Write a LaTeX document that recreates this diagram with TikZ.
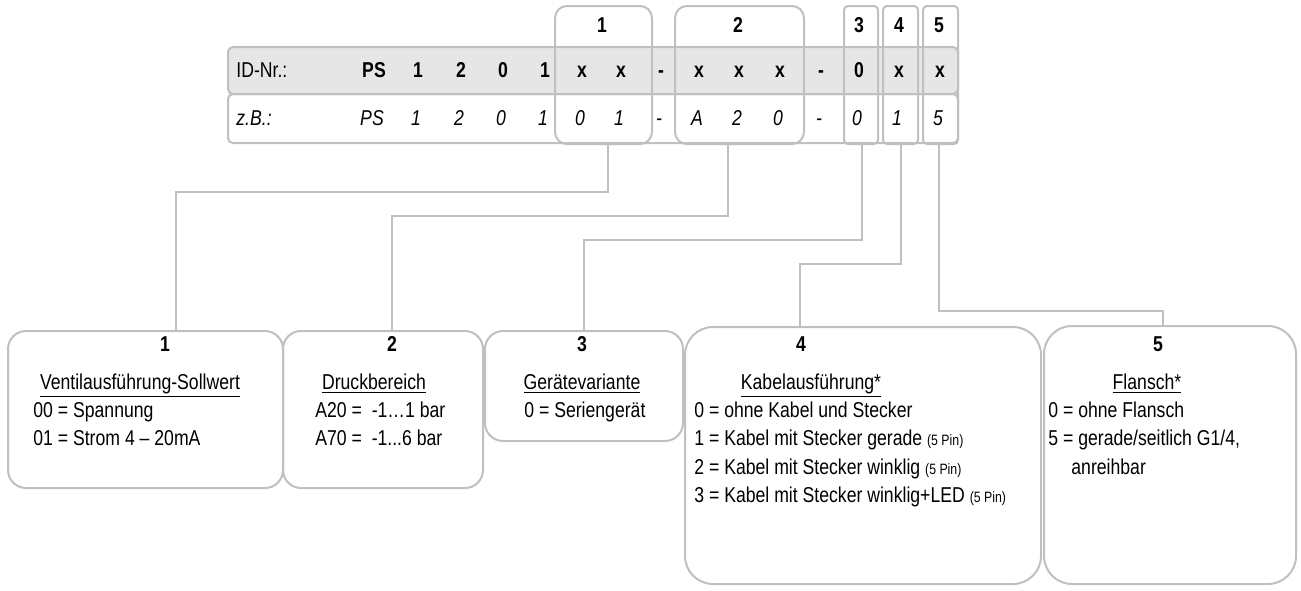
\documentclass[tikz,border=0pt]{standalone}
\usepackage{fontspec}
\setmainfont{Liberation Sans}[FakeStretch=0.82]
\usetikzlibrary{positioning}

\definecolor{framegray}{HTML}{C0C0C0}
\definecolor{rowgray}{HTML}{E6E6E6}
\newcommand{\boxfont}{\fontsize{10.75pt}{13pt}\selectfont}
\newcommand{\pinfont}{\fontsize{7.5pt}{9pt}\selectfont}

\tikzset{
		frame/.style   = {draw=framegray, line width=1pt, inner sep=0pt, anchor=north west},
		idrow/.style   = {frame, rounded corners=2.5pt, minimum width=365pt},
		colbox/.style  = {frame, rounded corners=2pt, minimum height=69pt},
		bigcol/.style  = {colbox, rounded corners=6pt},
		infobox/.style = {frame, rounded corners=9pt},
		wire/.style    = {draw=framegray, line width=1pt},
		txt/.style     = {font=\boxfont, inner sep=0pt, anchor=base west},
		head/.style    = {txt, anchor=base},
		num/.style     = {head, font=\boxfont\bfseries},
		excell/.style  = {head, font=\boxfont\itshape}
	}

\begin{document}
\begin{tikzpicture}[x=0.5pt, y=-0.5pt]
				\fill[white] (0,0) rectangle (1301,590);
				\path[use as bounding box] (0,0) rectangle (1301,590);

				% ID-Nr. table
				\node[idrow, fill=rowgray, minimum height=23.5pt] (idnr) at (227,46) {};
				\node[idrow, minimum height=24.5pt] (zb) at (227,93) {};
				\node[txt] (idlbl) at (236,77.5) {ID-Nr.:};
				\node[txt, font=\boxfont\itshape] (zblbl) at (236,125.5) {z.B.:};
				\foreach \x/\a/\b [count=\i] in {374/PS/PS, 418/1/1, 461/2/2, 503/0/0, 545/1/1,
						582/x/0, 621/x/1, 661/-/-, 699/x/A, 739/x/2, 780/x/0, 821/-/-,
						859/0/0, 899/x/1, 940/x/5}
					{
						\node[num] (id\i) at (\x,77.5) {\a};
						\node[excell] (ex\i) at (\x-2,125.5) {\b};
					}

				% position boxes
				\node[bigcol, minimum width=48.5pt] (col1) at (554,5) {};
				\node[bigcol, minimum width=64.5pt] (col2) at (674,5) {};
				\node[colbox, minimum width=17pt] (col3) at (843,5) {};
				\node[colbox, minimum width=17.5pt] (col4) at (882,5) {};
				\node[colbox, minimum width=17.5pt] (col5) at (922,5) {};
				\node[num] (cn1) at (602,32.5) {1};
				\node[num] (cn2) at (738,32.5) {2};
				\node[num] (cn3) at (859,32.5) {3};
				\node[num] (cn4) at (899,32.5) {4};
				\node[num] (cn5) at (939,32.5) {5};

				% explanation boxes
				\node[infobox, minimum width=137.5pt, minimum height=78.5pt] (b1) at (7,330) {};
				\node[infobox, minimum width=100pt, minimum height=78.5pt] (b2) at (282,330) {};
				\node[infobox, minimum width=99pt, minimum height=55pt] (b3) at (484,330) {};
				\node[infobox, rounded corners=14pt, minimum width=178pt, minimum height=128.5pt] (b4) at (684,326) {};
				\node[infobox, rounded corners=14pt, minimum width=126pt, minimum height=129pt] (b5) at (1043,325) {};

				% connectors
				\draw[wire] (608,0 |- col1.south) |- (176,192) -- (176,0 |- b1.north);
				\draw[wire] (728,0 |- col2.south) |- (392,216) -- (392,0 |- b2.north);
				\draw[wire] (862,0 |- col3.south) |- (584,240) -- (584,0 |- b3.north);
				\draw[wire] (901,0 |- col4.south) |- (800,264) -- (800,0 |- b4.north);
				\draw[wire] (939,0 |- col5.south) |- (1163,311) -- (1163,0 |- b5.north);

				% box 1
				\node[num] (b1n) at (165,351) {1};
				\node[head] (b1t) at (140,389) {\underline{Ventilausführung-Sollwert}};
				\node[txt] (b1a) at (33,417) {00 = Spannung};
				\node[txt] (b1b) at (33,445) {01 = Strom 4 – 20mA};

				% box 2
				\node[num] (b2n) at (392,351) {2};
				\node[head] (b2t) at (374,389) {\underline{Druckbereich}};
				\node[txt] (b2a) at (315,417) {A20 =\ \ -1…1 bar};
				\node[txt] (b2b) at (315,445) {A70 =\ \ -1...6 bar};

				% box 3
				\node[num] (b3n) at (582,351) {3};
				\node[head] (b3t) at (582,389) {\underline{Gerätevariante}};
				\node[txt] (b3a) at (524,417) {0 = Seriengerät};

				% box 4
				\node[num] (b4n) at (801,351) {4};
				\node[head] (b4t) at (811,389) {\underline{Kabelausführung*}};
				\node[txt] (b4a) at (694,417) {0 = ohne Kabel und Stecker};
				\node[txt] (b4b) at (694,445) {1 = Kabel mit Stecker gerade {\pinfont(5 Pin)}};
				\node[txt] (b4c) at (694,474) {2 = Kabel mit Stecker winklig {\pinfont(5 Pin)}};
				\node[txt] (b4d) at (694,502) {3 = Kabel mit Stecker winklig+LED {\pinfont(5 Pin)}};

				% box 5
				\node[num] (b5n) at (1158,351) {5};
				\node[head] (b5t) at (1147,389) {\underline{Flansch*}};
				\node[txt] (b5a) at (1048,417) {0 = ohne Flansch};
				\node[txt] (b5b) at (1048,445) {5 = gerade/seitlich G1/4,};
				\node[txt] (b5c) at (1071,474) {anreihbar};
			\end{tikzpicture}
\end{document}
